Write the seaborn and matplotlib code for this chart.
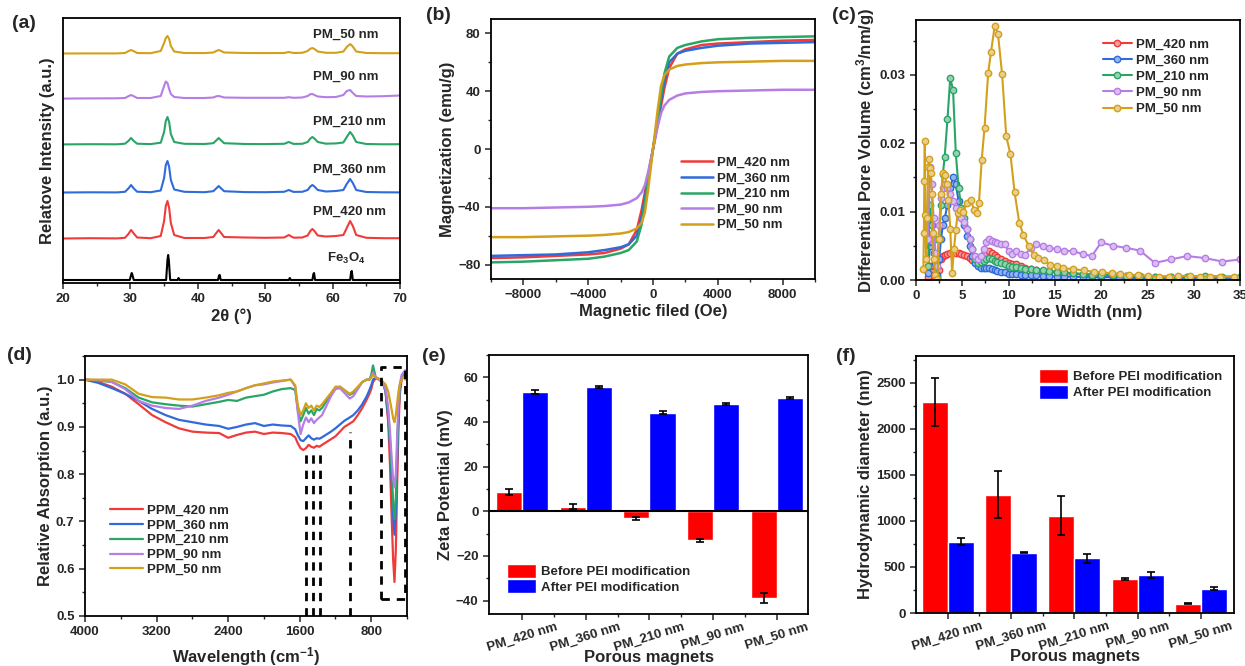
"""
Six-panel characterisation figure of porous magnets (XRD, VSM, pore size,
FTIR, zeta potential, hydrodynamic diameter) redrawn with seaborn.
"""

import numpy as np
import pandas as pd
import matplotlib

matplotlib.use("Agg")
import matplotlib.pyplot as plt
import seaborn as sns
from matplotlib.ticker import MultipleLocator, FormatStrFormatter

# ---------------------------------------------------------------- data
samples = ["PM_420 nm", "PM_360 nm", "PM_210 nm", "PM_90 nm", "PM_50 nm"]
ftir_labels = ["PPM_420 nm", "PPM_360 nm", "PPM_210 nm", "PPM_90 nm", "PPM_50 nm"]

# (a) XRD, intensity above each pattern's own baseline (a.u.)
xrd_x = [20, 24, 28, 29.2, 29.7, 30.1, 30.5, 31.0, 33, 34.5,
         35.0, 35.25, 35.5, 35.75, 36.0, 36.5, 38, 41, 42.3, 42.8,
         43.1, 43.4, 43.9, 47, 50, 52.8, 53.5, 54.2, 55.5, 56.3,
         56.7, 57.0, 57.3, 57.8, 59, 60.5, 61.6, 62.1, 62.6, 63.0,
         63.5, 65, 67.5, 70]
xrd_420 = [0.5, 0.8, 0.6, 1.2, 5, 9, 5.5, 1.5, 0.8, 3,
           18, 33, 38, 31, 16, 4, 1, 1, 2, 6.5,
           9, 6.5, 2, 1.5, 1.2, 1.5, 4, 1.3, 1.5, 3.5,
           8, 10, 8, 3.5, 2.5, 3, 4, 11, 18, 13,
           4, 1.2, 0.8, 0.8]
xrd_360 = [0.5, 0.7, 0.6, 1.2, 4.5, 8, 4.5, 1.3, 0.8, 2.5,
           15, 28, 32, 26, 13, 3.5, 1.2, 0.8, 1.8, 5,
           7, 5, 1.8, 0.9, 0.8, 1.2, 3, 1.1, 1.2, 3,
           6.5, 8, 6.5, 3, 1.5, 2, 3, 9, 14, 10,
           3, 1, 0.7, 0.6]
xrd_210 = [0.6, 0.8, 0.7, 1.3, 4, 7, 4, 1.3, 0.9, 2.3,
           13, 24, 28, 23, 11, 3, 1.2, 1, 1.8, 5,
           7, 5, 1.8, 1, 0.9, 1.2, 3, 1.1, 1.2, 3,
           6.5, 8, 6.5, 3, 1.3, 1.6, 2.5, 8, 13, 9.5,
           3, 1, 0.7, 0.8]
xrd_90 = [0.4, 0.6, 0.7, 1, 2.8, 4, 2.8, 1, 1, 3,
          13, 17.5, 16, 10, 5, 2, 1, 1, 1.5, 2.8,
          3, 2.5, 1.5, 1.2, 1.2, 1.2, 1.8, 1.2, 1.5, 3,
          4.8, 5, 4, 2.5, 1.8, 2, 4, 8, 9, 6,
          3, 2.5, 2.8, 3.5]
xrd_50 = [0.5, 0.6, 0.6, 1, 2.8, 4, 2.8, 1, 0.8, 3,
          11, 16, 18, 15, 8, 2.5, 1, 0.9, 1.5, 3.2,
          4, 3.2, 1.5, 1, 0.9, 1, 2, 1, 1.2, 3,
          5.3, 6, 5, 2.5, 1.2, 1.2, 2.5, 7, 10, 7.5,
          2.5, 1, 0.8, 0.8]
ref_x = [20, 29.9, 30.1, 30.2, 30.3, 30.5, 35.3, 35.5, 35.6, 35.7,
         35.9, 37.0, 37.15, 37.3, 43.0, 43.15, 43.25, 43.4, 53.5, 53.65,
         53.8, 57.0, 57.15, 57.25, 57.4, 62.6, 62.75, 62.85, 63.0, 70]
ref_y = [0, 0, 5, 7, 5, 0, 0, 20, 25, 20,
         0, 0, 2, 0, 0, 4.5, 5, 0, 0, 2,
         0, 0, 6, 7, 0, 0, 8, 9, 0, 0]

# (b) magnetisation (emu/g) against field (Oe)
field = [-10000, -8000, -6000, -4000, -3000, -2000, -1500, -1000, -700, -500,
         -300, -150, 0, 150, 300, 500, 700, 1000, 1500, 2000,
         3000, 4000, 6000, 8000, 10000]
mag_420 = [-75.5, -75, -74, -73, -72, -69, -66, -56, -42, -30,
           -18, -9, 0, 9, 18, 30, 42, 56, 66, 69,
           72, 73, 74, 75, 75.5]
mag_360 = [-74, -73.5, -73, -71.5, -70, -68, -66, -60, -47, -34,
           -20, -10, 0, 10, 20, 34, 47, 60, 66, 68,
           70, 71.5, 73, 73.5, 74]
mag_210 = [-78.5, -78, -77, -76, -74.5, -72, -70, -64, -52, -37,
           -22, -11, 0, 11, 22, 37, 52, 64, 70, 72,
           74.5, 76, 77, 77.5, 78]
mag_90 = [-41, -41, -40.5, -40, -39.5, -38.5, -37, -34, -30, -25,
          -16, -8, 0, 8, 16, 25, 30, 34, 37, 38.5,
          39.5, 40, 40.5, 41, 41]
mag_50 = [-61, -61, -60.5, -60, -59.5, -58.5, -57.5, -55, -51, -44,
          -28, -14, 0, 14, 28, 44, 51, 55, 57.5, 58.5,
          59.5, 60, 60.5, 61, 61]

# (c) pore size distribution (cm3/nm/g)
pore_x = [1.3, 1.5, 1.7, 1.9, 2.1, 2.3, 2.5, 2.7, 2.9, 3.1,
          3.4, 3.7, 4.0, 4.3, 4.6, 4.9, 5.2, 5.5, 5.8, 6.1,
          6.4, 6.7, 7.0, 7.3, 7.6, 7.9, 8.2, 8.5, 8.8, 9.2,
          9.6, 10.0, 10.4, 10.8, 11.3, 11.8, 12.4, 13.0, 13.7, 14.4,
          15.2, 16.0, 17.0, 18.0, 19.0, 20.0, 21.3, 22.7, 24.2, 25.8,
          27.5, 29.3, 31.2, 33.1, 35.0]
pore_420 = [0.0005, 0.0020, 0.0012, 0.0008, 0.0006, 0.0003, 0.0015, 0.0030, 0.0035, 0.0037,
            0.0038, 0.0040, 0.0041, 0.0040, 0.0039, 0.0038, 0.0037, 0.0035, 0.0032, 0.0029,
            0.0026, 0.0025, 0.0028, 0.0033, 0.0038, 0.0043, 0.0040, 0.0037, 0.0034, 0.0031,
            0.0028, 0.0025, 0.0024, 0.0024, 0.0021, 0.0018, 0.0016, 0.0015, 0.0013, 0.0012,
            0.0011, 0.0010, 0.0009, 0.0008, 0.0007, 0.0007, 0.0006, 0.0006, 0.0005, 0.0005,
            0.0004, 0.0004, 0.0004, 0.0003, 0.0003]
pore_360 = [0.0010, 0.0050, 0.0055, 0.0040, 0.0025, 0.0008, 0.0030, 0.0060, 0.0080, 0.0090,
            0.0110, 0.0135, 0.0150, 0.0140, 0.0115, 0.0095, 0.0080, 0.0065, 0.0050, 0.0035,
            0.0025, 0.0020, 0.0018, 0.0018, 0.0017, 0.0017, 0.0016, 0.0014, 0.0013, 0.0012,
            0.0011, 0.0009, 0.0009, 0.0009, 0.0008, 0.0008, 0.0007, 0.0007, 0.0006, 0.0006,
            0.0005, 0.0005, 0.0005, 0.0004, 0.0004, 0.0004, 0.0004, 0.0003, 0.0003, 0.0003,
            0.0003, 0.0003, 0.0003, 0.0002, 0.0002]
pore_210 = [0.0020, 0.0110, 0.0080, 0.0060, 0.0030, 0.0005, 0.0060, 0.0110, 0.0155, 0.0180,
            0.0235, 0.0295, 0.0278, 0.0185, 0.0135, 0.0105, 0.0090, 0.0075, 0.0060, 0.0045,
            0.0030, 0.0025, 0.0026, 0.0028, 0.0030, 0.0032, 0.0030, 0.0028, 0.0027, 0.0025,
            0.0023, 0.0020, 0.0019, 0.0019, 0.0017, 0.0016, 0.0016, 0.0015, 0.0014, 0.0013,
            0.0012, 0.0011, 0.0010, 0.0009, 0.0008, 0.0008, 0.0007, 0.0006, 0.0006, 0.0005,
            0.0005, 0.0005, 0.0006, 0.0005, 0.0005]
pore_90 = [0.0060, 0.0165, 0.0140, 0.0090, 0.0040, 0.0020, 0.0080, 0.0120, 0.0135, 0.0140,
           0.0135, 0.0125, 0.0115, 0.0105, 0.0095, 0.0090, 0.0085, 0.0075, 0.0060, 0.0045,
           0.0035, 0.0030, 0.0035, 0.0045, 0.0055, 0.0060, 0.0057, 0.0055, 0.0054, 0.0053,
           0.0052, 0.0042, 0.0038, 0.0043, 0.0038, 0.0037, 0.0047, 0.0052, 0.0050, 0.0047,
           0.0045, 0.0043, 0.0042, 0.0038, 0.0035, 0.0055, 0.0050, 0.0047, 0.0043, 0.0025,
           0.0030, 0.0035, 0.0032, 0.0027, 0.0030]
pore50_x = [0.8, 0.85, 0.9, 0.95, 1.0, 1.1, 1.2, 1.3, 1.4, 1.5,
            1.6, 1.7, 1.8, 1.9, 2.1, 2.3, 2.5, 2.7, 2.9, 3.1,
            3.3, 3.5, 3.7, 3.9, 4.1, 4.3, 4.5, 4.8, 5.1, 5.5,
            5.9, 6.3, 6.6, 6.8, 7.1, 7.4, 7.8, 8.1, 8.5, 8.85,
            9.3, 9.75, 10.2, 10.65, 11.15, 11.6, 12.2, 12.7, 13.2, 13.8,
            14.5, 15.2, 15.9, 17.0, 18.1, 19.2, 20.1, 21.2, 22.0, 23.0,
            24.0, 25.1, 26.2, 27.3, 28.3, 29.6, 30.7, 31.8, 32.8, 34.4]
pore_50 = [0.0016, 0.0068, 0.0144, 0.0203, 0.0095, 0.0030, 0.0090, 0.0165, 0.0177, 0.0163,
           0.0156, 0.0125, 0.0068, 0.0030, 0.0008, 0.0002, 0.0060, 0.0125, 0.0156, 0.0154,
           0.0140, 0.0117, 0.0075, 0.0010, 0.0045, 0.0073, 0.0098, 0.0103, 0.0100, 0.0112,
           0.0117, 0.0102, 0.0098, 0.0112, 0.0176, 0.0222, 0.0303, 0.0333, 0.0371, 0.0360,
           0.0301, 0.0210, 0.0184, 0.0128, 0.0084, 0.0066, 0.0049, 0.0037, 0.0032, 0.0029,
           0.0022, 0.0020, 0.0017, 0.0016, 0.0014, 0.0012, 0.0011, 0.0010, 0.0009, 0.0008,
           0.0007, 0.0006, 0.0005, 0.0005, 0.0006, 0.0006, 0.0005, 0.0005, 0.0005, 0.0005]

# (d) FTIR, relative absorption against wavenumber (cm-1)
ftir_x = [4000, 3850, 3700, 3550, 3400, 3250, 3100, 2950, 2800, 2650,
          2500, 2400, 2300, 2200, 2100, 2000, 1900, 1800, 1700, 1650,
          1620, 1590, 1560, 1530, 1500, 1470, 1440, 1410, 1380, 1350,
          1300, 1250, 1200, 1150, 1100, 1040, 1000, 950, 900, 850,
          820, 800, 780, 750, 700, 670, 640, 610, 590, 570,
          555, 540, 525, 510, 495, 480, 460, 440, 420, 400]
ftir_420 = [1.000, 0.995, 0.985, 0.970, 0.948, 0.925, 0.910, 0.897, 0.890, 0.888,
            0.887, 0.877, 0.883, 0.888, 0.890, 0.885, 0.888, 0.887, 0.885, 0.878,
            0.865, 0.855, 0.851, 0.855, 0.862, 0.858, 0.856, 0.860, 0.858, 0.862,
            0.868, 0.874, 0.880, 0.890, 0.900, 0.907, 0.912, 0.925, 0.940, 0.958,
            0.970, 0.980, 0.995, 1.003, 1.000, 0.995, 0.975, 0.910, 0.820, 0.700,
            0.620, 0.572, 0.640, 0.780, 0.900, 0.970, 1.000, 1.010, 1.008, 1.000]
ftir_360 = [1.000, 0.993, 0.982, 0.970, 0.955, 0.938, 0.925, 0.915, 0.910, 0.905,
            0.902, 0.896, 0.900, 0.905, 0.908, 0.902, 0.905, 0.903, 0.902, 0.895,
            0.882, 0.872, 0.870, 0.876, 0.882, 0.876, 0.873, 0.876, 0.875, 0.878,
            0.884, 0.890, 0.897, 0.905, 0.913, 0.920, 0.925, 0.935, 0.948, 0.965,
            0.978, 0.988, 1.000, 1.005, 1.000, 0.995, 0.975, 0.920, 0.860, 0.780,
            0.710, 0.672, 0.720, 0.830, 0.930, 0.980, 1.005, 1.010, 1.015, 1.010]
ftir_210 = [1.000, 0.998, 0.995, 0.982, 0.962, 0.952, 0.948, 0.945, 0.943, 0.948,
            0.953, 0.957, 0.955, 0.962, 0.965, 0.968, 0.975, 0.980, 0.982, 0.978,
            0.935, 0.912, 0.925, 0.940, 0.928, 0.935, 0.925, 0.938, 0.935, 0.940,
            0.955, 0.968, 0.982, 0.985, 0.978, 0.968, 0.972, 0.982, 0.995, 1.000,
            1.000, 1.010, 1.030, 1.005, 0.998, 0.992, 0.980, 0.930, 0.870, 0.800,
            0.740, 0.705, 0.750, 0.850, 0.940, 0.985, 1.005, 1.010, 1.010, 1.005]
ftir_90 = [1.000, 0.999, 0.995, 0.980, 0.955, 0.945, 0.940, 0.938, 0.945, 0.955,
           0.962, 0.968, 0.975, 0.982, 0.988, 0.990, 0.994, 0.997, 1.000, 0.985,
           0.930, 0.885, 0.905, 0.920, 0.910, 0.918, 0.908, 0.915, 0.920, 0.925,
           0.945, 0.965, 0.980, 0.982, 0.972, 0.960, 0.965, 0.980, 0.995, 1.000,
           1.000, 1.005, 1.015, 1.005, 0.998, 0.992, 0.980, 0.940, 0.890, 0.830,
           0.790, 0.772, 0.800, 0.880, 0.950, 0.990, 1.010, 1.015, 1.020, 1.010]
ftir_50 = [1.000, 1.000, 1.000, 0.990, 0.970, 0.963, 0.962, 0.958, 0.958, 0.962,
           0.967, 0.972, 0.975, 0.982, 0.988, 0.992, 0.996, 0.998, 1.000, 0.988,
           0.945, 0.925, 0.935, 0.950, 0.940, 0.945, 0.935, 0.945, 0.942, 0.948,
           0.960, 0.972, 0.985, 0.985, 0.978, 0.970, 0.975, 0.985, 0.995, 1.000,
           1.000, 1.005, 1.010, 1.005, 1.000, 0.995, 0.990, 0.975, 0.955, 0.935,
           0.918, 0.910, 0.925, 0.950, 0.975, 0.990, 1.000, 1.005, 1.000, 1.000]
ftir_bands = [1533, 1451, 1377]      # marked PEI bands (dashed lines)
ftir_band_top = 0.848
ftir_co_band = 1040
ftir_co_top = 0.89
fe_o_box = [688, 417, 0.537, 1.027]  # x from, x to, y from, y to

# (e) zeta potential (mV) and (f) hydrodynamic diameter (nm)
stages = ["Before PEI modification", "After PEI modification"]
zeta_before = [8.6, 2.1, -3.2, -12.9, -38.9]
zeta_before_err = [1.5, 1.2, 0.5, 0.7, 2.3]
zeta_after = [53.5, 55.6, 44.2, 48.0, 50.7]
zeta_after_err = [1.0, 0.5, 0.8, 0.3, 0.3]
dh_before = [2289, 1283, 1057, 367, 102]
dh_before_err = [258, 255, 209, 10, 8]
dh_after = [774, 654, 592, 410, 265]
dh_after_err = [40, 5, 45, 35, 12]

# ---------------------------------------------------------------- style
RED = "#F03B3B"
BLUE = "#2F6BDB"
GREEN = "#2BA566"
PURPLE = "#B67EE4"
GOLD = "#D3A01C"
SERIES_COLORS = [RED, BLUE, GREEN, PURPLE, GOLD]
LIGHT_COLORS = ["#F79D9D", "#97B5ED", "#95D2B2", "#DABEF1", "#E9CF8D"]
BAR_RED = "#FF0000"
BAR_BLUE = "#0000FF"

W, H = 1245, 666
TICK_FS = 9.5
LABEL_FS = 12
LEGEND_FS = 9.5


def px_axes(fig, left, top, right, bottom):
    return fig.add_axes([left / W, 1 - bottom / H, (right - left) / W, (bottom - top) / H])


def style_axes(ax):
    for s in ax.spines.values():
        s.set_linewidth(1.3)
        s.set_color("black")
    ax.tick_params(which="major", length=4, width=1.1, labelsize=TICK_FS,
                   direction="out", top=False, right=False)
    ax.tick_params(which="minor", length=2.5, width=1.0,
                   direction="out", top=False, right=False)


def plot_xrd(ax):
    offsets = [44, 90, 138, 184, 229]
    curves = [xrd_420, xrd_360, xrd_210, xrd_90, xrd_50]
    label_y = [71, 113, 161, 206, 248]
    for ys, off, col, name, ly in zip(curves, offsets, SERIES_COLORS, samples, label_y):
        sns.lineplot(x=xrd_x, y=np.array(ys) + off, color=col, lw=1.5, ax=ax)
        ax.text(57.1, ly, name, fontsize=TICK_FS, fontweight="bold", va="center")
    sns.lineplot(x=ref_x, y=np.array(ref_y) + 3, color="black", lw=1.5, ax=ax)
    ax.text(59.2, 25, r"Fe$_3$O$_4$", fontsize=TICK_FS, fontweight="bold", va="center")
    ax.set_xlim(20, 70)
    ax.set_ylim(0, 265)
    ax.set_yticks([])
    ax.xaxis.set_major_locator(MultipleLocator(10))
    ax.xaxis.set_minor_locator(MultipleLocator(5))
    ax.set_xlabel("2θ (°)", fontsize=LABEL_FS, labelpad=2)
    ax.set_ylabel("Relatove Intensity (a.u.)", fontsize=LABEL_FS, labelpad=6)


def plot_vsm(ax):
    curves = [mag_420, mag_360, mag_210, mag_90, mag_50]
    for ys, col, name in zip(curves, SERIES_COLORS, samples):
        sns.lineplot(x=field, y=ys, color=col, lw=1.8, ax=ax, label=name)
    ax.set_xlim(-10000, 10000)
    ax.set_ylim(-90, 90)
    ax.set_xticks([-8000, -4000, 0, 4000, 8000])
    ax.xaxis.set_minor_locator(MultipleLocator(2000))
    ax.set_yticks([-80, -40, 0, 40, 80])
    ax.yaxis.set_minor_locator(MultipleLocator(20))
    ax.set_xlabel("Magnetic filed (Oe)", fontsize=LABEL_FS, labelpad=2)
    ax.set_ylabel("Magnetization (emu/g)", fontsize=LABEL_FS, labelpad=2)
    ax.legend(loc="upper left", bbox_to_anchor=(0.57, 0.49), frameon=False,
              fontsize=LEGEND_FS, handlelength=2.4, labelspacing=0.25,
              handletextpad=0.3, borderaxespad=0)


def plot_pores(ax):
    curves = [(pore_x, pore_420), (pore_x, pore_360), (pore_x, pore_210),
              (pore_x, pore_90), (pore50_x, pore_50)]
    for (xs, ys), col, light, name in zip(curves, SERIES_COLORS, LIGHT_COLORS, samples):
        sns.lineplot(x=xs, y=ys, color=col, lw=1.5, ax=ax, label=name,
                     marker="o", markersize=4.6, markerfacecolor=light,
                     markeredgecolor=col, markeredgewidth=1.0)
    ax.set_xlim(0, 35)
    ax.set_ylim(0, 0.038)
    ax.xaxis.set_major_locator(MultipleLocator(5))
    ax.xaxis.set_minor_locator(MultipleLocator(2.5))
    ax.set_yticks([0, 0.01, 0.02, 0.03])
    ax.yaxis.set_minor_locator(MultipleLocator(0.005))
    ax.yaxis.set_major_formatter(FormatStrFormatter("%.2f"))
    ax.set_xlabel("Pore Width (nm)", fontsize=LABEL_FS, labelpad=2)
    ax.set_ylabel(r"Differential Pore Volume (cm$^3$/nm/g)", fontsize=LABEL_FS, labelpad=2)
    ax.legend(loc="upper left", bbox_to_anchor=(0.56, 0.95), frameon=False,
              fontsize=LEGEND_FS, handlelength=2.2, labelspacing=0.3,
              handletextpad=0.3, borderaxespad=0)


def plot_ftir(ax):
    curves = [ftir_420, ftir_360, ftir_210, ftir_90, ftir_50]
    for ys, col, name in zip(curves, SERIES_COLORS, ftir_labels):
        sns.lineplot(x=ftir_x, y=ys, color=col, lw=1.6, ax=ax, label=name)
    dash = dict(color="black", lw=2.0, ls=(0, (3, 2.5)), zorder=4)
    for b in ftir_bands:
        ax.plot([b, b], [0.5, ftir_band_top], **dash)
    ax.plot([ftir_co_band, ftir_co_band], [0.5, ftir_co_top], **dash)
    x0, x1, y0, y1 = fe_o_box
    ax.plot([x0, x1, x1, x0, x0], [y0, y0, y1, y1, y0], **dash)
    ax.set_xlim(4000, 400)
    ax.set_ylim(0.5, 1.05)
    ax.set_xticks([4000, 3200, 2400, 1600, 800])
    ax.xaxis.set_minor_locator(MultipleLocator(400))
    ax.yaxis.set_major_locator(MultipleLocator(0.1))
    ax.yaxis.set_minor_locator(MultipleLocator(0.05))
    ax.yaxis.set_major_formatter(FormatStrFormatter("%.1f"))
    ax.set_xlabel(r"Wavelength (cm$^{-1}$)", fontsize=LABEL_FS, labelpad=5)
    ax.set_ylabel("Relative Absorption (a.u.)", fontsize=LABEL_FS, labelpad=2)
    ax.legend(loc="upper left", bbox_to_anchor=(0.06, 0.45), frameon=False,
              fontsize=LEGEND_FS, handlelength=2.5, labelspacing=0.2,
              handletextpad=0.3, borderaxespad=0)


def plot_bars(ax, before, before_err, after, after_err):
    df = pd.DataFrame({
        "Sample": samples * 2,
        "Stage": [stages[0]] * len(samples) + [stages[1]] * len(samples),
        "Value": before + after,
    })
    sns.barplot(data=df, x="Sample", y="Value", hue="Stage", hue_order=stages,
                palette=[BAR_RED, BAR_BLUE], width=0.82, gap=0, saturation=1,
                errorbar=None, ax=ax, zorder=2)
    for cont, vals, errs in zip(ax.containers, [before, after], [before_err, after_err]):
        centers = [b.get_x() + b.get_width() / 2 for b in cont]
        ax.errorbar(centers, vals, yerr=errs, fmt="none", ecolor="black",
                    elinewidth=1.2, capsize=3, capthick=1.2, zorder=3)
    ax.set_xticks(range(len(samples)))
    ax.set_xticklabels(samples, rotation=17, ha="center", fontsize=TICK_FS)
    ax.set_xticks([i + 0.5 for i in range(len(samples) - 1)], minor=True)
    ax.tick_params(axis="x", which="major", pad=1)
    ax.set_xlabel("Porous magnets", fontsize=LABEL_FS, labelpad=-3)


def plot_zeta(ax):
    plot_bars(ax, zeta_before, zeta_before_err, zeta_after, zeta_after_err)
    ax.axhline(0, color="black", lw=1.5, zorder=4)
    ax.set_xlim(-0.52, 4.49)
    ax.set_ylim(-46, 70)
    ax.set_yticks([-40, -20, 0, 20, 40, 60])
    ax.yaxis.set_minor_locator(MultipleLocator(10))
    ax.set_ylabel("Zeta Potential (mV)", fontsize=LABEL_FS, labelpad=2)
    handles, labels = ax.get_legend_handles_labels()
    ax.legend(handles, labels, loc="upper left", bbox_to_anchor=(0.04, 0.215),
              frameon=False, fontsize=LEGEND_FS, handlelength=2.2,
              handleheight=1.25, labelspacing=0.1, handletextpad=0.35,
              borderaxespad=0)


def plot_dh(ax):
    plot_bars(ax, dh_before, dh_before_err, dh_after, dh_after_err)
    ax.set_xlim(-0.5, 4.52)
    ax.set_ylim(0, 2790)
    ax.set_yticks([0, 500, 1000, 1500, 2000, 2500])
    ax.yaxis.set_minor_locator(MultipleLocator(250))
    ax.set_ylabel("Hydrodynamic diameter (nm)", fontsize=LABEL_FS, labelpad=2)
    handles, labels = ax.get_legend_handles_labels()
    ax.legend(handles, labels, loc="upper left", bbox_to_anchor=(0.37, 0.97),
              frameon=False, fontsize=LEGEND_FS, handlelength=2.2,
              handleheight=1.25, labelspacing=0.1, handletextpad=0.35,
              borderaxespad=0)


if __name__ == "__main__":
    sns.set_style("ticks")
    plt.rcParams["font.family"] = ["Liberation Sans", "DejaVu Sans"]
    plt.rcParams["font.weight"] = "bold"
    plt.rcParams["axes.labelweight"] = "bold"
    plt.rcParams["mathtext.default"] = "regular"
    plt.rcParams["axes.unicode_minus"] = True

    fig = plt.figure(figsize=(W / 100, H / 100), dpi=100)

    ax_a = px_axes(fig, 63, 18, 400, 283)
    ax_b = px_axes(fig, 491, 19, 815, 279)
    ax_c = px_axes(fig, 916, 20, 1240, 280)
    ax_d = px_axes(fig, 85, 356, 407, 616)
    ax_e = px_axes(fig, 489, 355, 808, 614)
    ax_f = px_axes(fig, 916, 356, 1234, 613)

    plot_xrd(ax_a)
    plot_vsm(ax_b)
    plot_pores(ax_c)
    plot_ftir(ax_d)
    plot_zeta(ax_e)
    plot_dh(ax_f)

    for ax in [ax_a, ax_b, ax_c, ax_d, ax_e, ax_f]:
        style_axes(ax)
        for lab in ax.get_xticklabels() + ax.get_yticklabels():
            lab.set_fontweight("bold")

    panel_labels = [("(a)", 12, 24), ("(b)", 426, 15), ("(c)", 832, 16),
                    ("(d)", 7, 355), ("(e)", 422, 356), ("(f)", 836, 356)]
    for txt, px, py in panel_labels:
        fig.text(px / W, 1 - py / H, txt, fontsize=14, fontweight="bold",
                 ha="left", va="center")

    fig.savefig("out.png", dpi=100)
